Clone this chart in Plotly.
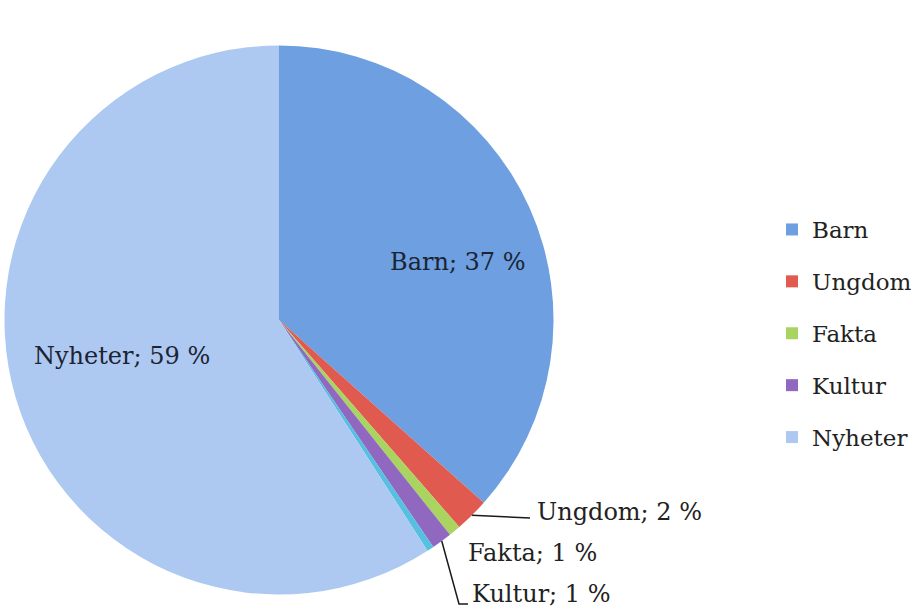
import math
import plotly.graph_objects as go

# ---- data ----
categories = ["Barn", "Ungdom", "Fakta", "Kultur", " ", "Nyheter"]
values = [36.6, 2.0, 0.7, 1.2, 0.4, 59.1]
label_pct = [37, 2, 1, 1, None, 59]
colors = ["#6d9fe1", "#e05a50", "#a8d45f", "#9068c0", "#55c0e0", "#adc9f1"]
legend_items = ["Barn", "Ungdom", "Fakta", "Kultur", "Nyheter"]

W, H = 919, 610
FONT = "DejaVu Serif"
TXT = "#222222"
FS = 24

# pie geometry (pixels)
cx, cy, R = 279.0, 320.0, 274.5
dom_x = [(cx - R) / W, (cx + R) / W]
dom_y = [1 - (cy + R) / H, 1 - (cy - R) / H]

fig = go.Figure()
fig.add_trace(go.Pie(
    labels=categories, values=values, sort=False, direction="clockwise",
    rotation=0, marker=dict(colors=colors, line=dict(width=0)),
    textinfo="none", hoverinfo="label+percent", showlegend=False,
    domain=dict(x=dom_x, y=dom_y),
))

# legend via dummy traces (one group each, for spacing)
for name in legend_items:
    c = colors[categories.index(name)]
    fig.add_trace(go.Scatter(
        x=[None], y=[None], mode="markers", name=name, legendgroup=name,
        marker=dict(symbol="square", size=12, color=c),
    ))

def px(x, y):
    return x / W, 1 - y / H

def edge_point(idx):
    total = sum(values)
    before = sum(values[:idx])
    frac = (before + values[idx] / 2) / total
    th = 2 * math.pi * frac
    return cx + R * math.sin(th), cy - R * math.cos(th)

def lab(i):
    return f"{categories[i]}; {label_pct[i]} %"

annotations = []
# inside labels
for i, (x, y) in [(0, (458, 262)), (5, (122, 356))]:
    ax_, ay_ = px(x, y)
    annotations.append(dict(x=ax_, y=ay_, xref="paper", yref="paper", text=lab(i),
                            showarrow=False, xanchor="center", yanchor="middle",
                            font=dict(family=FONT, size=FS, color="#1c2433")))
# outside labels
for i, (x, y) in [(1, (535, 512)), (2, (466, 553)), (3, (470, 594))]:
    ax_, ay_ = px(x, y)
    annotations.append(dict(x=ax_, y=ay_, xref="paper", yref="paper", text=lab(i),
                            showarrow=False, xanchor="left", yanchor="middle",
                            font=dict(family=FONT, size=FS, color=TXT)))

shapes = []
# Ungdom leader line
ex, ey = edge_point(1)
pts = [(ex, ey), (530, 518)]
path = "M " + " L ".join(f"{px(a, b)[0]},{px(a, b)[1]}" for a, b in pts)
shapes.append(dict(type="path", path=path, xref="paper", yref="paper",
                   line=dict(color="#1a1a1a", width=1.5)))
# Kultur leader line (elbow)
ex, ey = edge_point(3)
pts = [(ex, ey), (459, 604), (468, 604)]
path = "M " + " L ".join(f"{px(a, b)[0]},{px(a, b)[1]}" for a, b in pts)
shapes.append(dict(type="path", path=path, xref="paper", yref="paper",
                   line=dict(color="#1a1a1a", width=1.5)))

fig.update_layout(
    width=W, height=H,
    margin=dict(l=0, r=0, t=0, b=0),
    paper_bgcolor="white", plot_bgcolor="white",
    xaxis=dict(visible=False), yaxis=dict(visible=False),
    legend=dict(x=(797 - 25) / W, xanchor="left", y=1 - 333.5 / H, yanchor="middle",
                font=dict(family=FONT, size=23, color=TXT),
                tracegroupgap=19, itemwidth=30, bgcolor="rgba(0,0,0,0)"),
    annotations=annotations, shapes=shapes,
    font=dict(family=FONT),
)

fig.write_html("out.html", config={"displayModeBar": False},
               post_script="document.body.style.margin='0';document.body.style.overflow='hidden';")
